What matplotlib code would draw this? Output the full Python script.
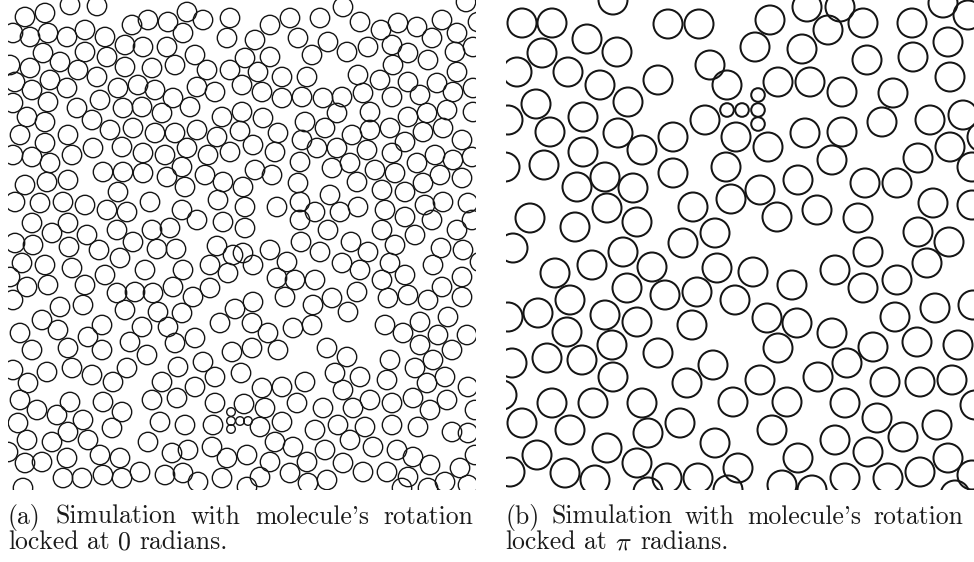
import matplotlib.pyplot as plt
from matplotlib.patches import Circle

plt.rcParams['mathtext.fontset'] = 'cm'

# molecule centres (pixel frame), panel (a): rotation locked at 0
a_big = [
    (25, 17), (45, 13), (70, 5), (97, 6), (132, 25), (148, 20), (168, 22), (187, 12), (203, 20), (230, 18),
    (13, 33), (30, 37), (48, 33), (67, 37), (85, 30), (105, 37), (125, 45), (143, 47), (167, 47), (183, 33), (227, 38),
    (43, 53), (85, 52), (107, 57), (195, 55),
    (10, 65), (30, 68), (60, 62), (78, 70), (125, 67), (152, 68), (175, 65), (207, 70), (230, 70),
    (15, 82), (50, 80), (97, 77),
    (32, 90), (67, 88), (118, 88), (138, 85), (155, 90), (197, 87), (215, 92),
    (13, 103), (48, 102), (100, 100), (173, 98),
    (77, 108), (123, 108), (142, 107), (162, 113), (190, 107),
    (27, 117), (45, 122), (92, 120), (222, 117),
    (20, 135), (68, 135), (110, 130), (133, 128), (155, 133), (175, 133), (197, 130), (217, 137), (240, 131),
    (45, 143), (93, 148), (122, 147), (143, 153), (165, 155), (187, 148), (208, 155), (230, 152),
    (13, 155), (32, 157), (50, 163), (72, 155),
    (103, 172), (123, 172), (143, 173), (167, 177), (182, 167), (205, 175), (223, 182),
    (25, 185), (47, 182), (68, 180), (185, 187), (118, 192), (243, 187),
    (15, 202), (40, 203), (63, 202), (85, 205), (107, 210), (127, 212), (150, 202), (182, 210), (218, 200), (245, 207),
    (32, 223), (52, 233), (68, 223), (87, 235), (117, 230), (133, 242), (152, 230), (170, 228), (197, 220), (223, 222), (245, 228),
    (15, 243), (33, 245), (69, 247), (99, 250), (157, 249), (176, 249), (217, 246),
    (120, 258), (233, 255),
    (22, 263), (45, 265), (72, 268), (105, 275), (145, 270), (183, 270), (210, 265), (228, 273),
    (10, 277), (27, 287), (48, 285), (85, 285), (117, 293), (135, 292), (153, 293), (173, 287), (193, 297), (210, 288),
    (13, 300), (60, 307), (83, 305), (125, 310), (158, 312), (182, 313), (235, 309),
    (42, 320), (102, 325), (142, 327), (168, 327), (220, 323),
    (20, 333), (58, 330), (88, 337), (130, 342), (175, 343), (195, 338),
    (32, 350), (68, 348), (102, 350), (147, 355), (232, 352), (203, 362),
    (13, 370), (47, 372), (72, 368), (92, 375), (127, 368), (178, 367),
    (28, 383), (113, 382), (162, 382), (195, 387), (215, 377), (241, 373),
    (20, 400), (37, 410), (57, 415), (70, 402), (103, 402), (152, 400), (177, 398), (215, 403),
    (83, 420), (18, 423), (122, 412), (160, 422), (185, 425), (213, 425),
    (68, 432), (112, 428),
    (27, 440), (52, 442), (88, 440), (148, 442),
    (8, 452), (100, 455), (120, 458), (172, 453), (188, 450), (212, 447), (227, 458),
    (25, 463), (42, 462), (67, 458),
    (63, 478), (82, 478), (103, 475), (122, 478), (140, 472), (165, 475), (183, 473), (198, 482), (222, 478),
    (23, 488),
    # right half
    (270, 25), (290, 18), (320, 18), (343, 7), (360, 22), (381, 30), (398, 23), (417, 27), (442, 20), (466, 2),
    (457, 33), (478, 22),
    (255, 40), (298, 38), (328, 42), (347, 52), (368, 47), (392, 45), (408, 53), (432, 38), (428, 60), (455, 52), (473, 47),
    (245, 58), (270, 57), (312, 55), (393, 65),
    (258, 72), (282, 77), (307, 77), (358, 75), (380, 80), (408, 82), (437, 83), (457, 72),
    (242, 85), (262, 92), (282, 98), (302, 97), (323, 98), (342, 97), (363, 93), (392, 97), (420, 95), (453, 92), (473, 88),
    (242, 112), (263, 118), (305, 122), (337, 113), (370, 112), (408, 117), (427, 113), (447, 110), (473, 112),
    (278, 133), (302, 140), (325, 128), (352, 135), (370, 130), (390, 128), (423, 132), (443, 128), (462, 140),
    (253, 145), (275, 152), (317, 148), (337, 148), (367, 150), (405, 142), (392, 153),
    (300, 162), (350, 163), (435, 155), (453, 160), (472, 157), (417, 163),
    (255, 170), (272, 175), (332, 168), (375, 170), (395, 173), (440, 175), (462, 178),
    (298, 183), (357, 182), (382, 190), (405, 192), (423, 183), (330, 195),
    (277, 207), (300, 202), (315, 212), (340, 212), (358, 207), (385, 210), (405, 217), (425, 205), (443, 202), (468, 203),
    (300, 220), (328, 230), (382, 230), (415, 235), (432, 220), (457, 230), (472, 220),
    (270, 250), (301, 242), (351, 242), (395, 245), (441, 248), (463, 250),
    (243, 253), (320, 252), (368, 252),
    (253, 265), (287, 262), (342, 263), (360, 270), (390, 263), (405, 275), (433, 265), (462, 277), (480, 262),
    (277, 278), (295, 280), (315, 280), (382, 280), (357, 292), (442, 287),
    (285, 297), (332, 298), (313, 305), (388, 298), (408, 295), (428, 300), (462, 297),
    (253, 302), (348, 312),
    (252, 323), (268, 333), (293, 328), (312, 325), (385, 325), (403, 333), (420, 322), (448, 317), (438, 335), (467, 335),
    (252, 348), (278, 350), (327, 348), (420, 345), (452, 350), (347, 357), (390, 360), (433, 360), (415, 368),
    (335, 373), (360, 377), (387, 380), (427, 383), (445, 377),
    (262, 388), (282, 387), (305, 382), (343, 390), (468, 387),
    (244, 404), (265, 408), (297, 403), (323, 408), (353, 408), (370, 400), (392, 403), (413, 398), (447, 400), (430, 410), (475, 410),
    (260, 427), (282, 422), (338, 425), (365, 427), (392, 425), (418, 427), (452, 432), (468, 433),
    (275, 442), (293, 447), (315, 430), (325, 450), (350, 440), (373, 447), (397, 450), (413, 457),
    (247, 455), (270, 462), (307, 462), (343, 463), (430, 465), (460, 468), (475, 455),
    (260, 477), (290, 473), (327, 480), (363, 472), (387, 472), (408, 477), (445, 482),
    (247, 487), (308, 483), (402, 488), (428, 488), (468, 485),
]
a_small = [(231, 412), (231, 421), (231, 429), (240, 421), (248, 421)]

# panel (b): rotation locked at pi
b_big = [
    (522, 23), (552, 23), (613, 0), (668, 24), (699, 24), (587, 39), (617, 52), (542, 53),
    (517, 72), (568, 72), (600, 85), (658, 80), (710, 65), (727, 85),
    (628, 102), (536, 104), (508, 120), (583, 117), (550, 132), (618, 133), (642, 150), (673, 137),
    (705, 120), (736, 137), (505, 167), (544, 165), (583, 152), (577, 187), (605, 177), (633, 188),
    (673, 173), (726, 167), (731, 199),
    (607, 208), (637, 222), (575, 227), (530, 218), (693, 207), (683, 243), (715, 233), (623, 252),
    (770, 20), (807, 7), (840, 7), (828, 30), (863, 23), (912, 23), (943, 3), (968, 15),
    (755, 47), (802, 49), (867, 60), (913, 57), (948, 42), (950, 77),
    (778, 82), (810, 82), (842, 92), (893, 93), (882, 122), (930, 120), (963, 115), (982, 137),
    (768, 147), (805, 133), (842, 132), (832, 160), (918, 158), (950, 147), (972, 167),
    (798, 180), (760, 190), (865, 183), (897, 183), (933, 203), (972, 205),
    (777, 217), (817, 210), (858, 218), (918, 232), (949, 242), (868, 252),
    (513, 248), (555, 273), (592, 265), (652, 267), (717, 268),
    (570, 300), (627, 288), (665, 295), (697, 292), (735, 300),
    (538, 313), (508, 317), (605, 315), (637, 322), (692, 325),
    (567, 332), (612, 345), (658, 353), (547, 358), (582, 360), (512, 363),
    (613, 377), (713, 365), (687, 383),
    (502, 395), (552, 403), (593, 403), (642, 403), (733, 402),
    (522, 423), (570, 430), (648, 433), (680, 423), (715, 443),
    (537, 455), (607, 448), (637, 463),
    (510, 472), (565, 473), (595, 480), (667, 478), (698, 478), (738, 468), (648, 492), (728, 490),
    (753, 272), (792, 285), (835, 270), (863, 288), (897, 280), (927, 263),
    (767, 318), (797, 323), (832, 333), (895, 317), (935, 308), (973, 305),
    (778, 348), (873, 347), (917, 342), (958, 345), (847, 363),
    (818, 377), (760, 380), (885, 382), (920, 382), (952, 380),
    (787, 402), (845, 403), (975, 405), (877, 418), (772, 430), (937, 425),
    (835, 440), (903, 437), (868, 452), (798, 458), (948, 458),
    (920, 472), (888, 478), (845, 478), (782, 485), (812, 490), (972, 475), (955, 495),
]
b_small = [(758, 95), (727, 110), (742, 110), (758, 110), (758, 124)]

cap_a = [["(a)", "Simulation", "with", "molecule's", "rotation"],
         ["locked", "at", "0", "radians."]]
cap_b = [["(b)", "Simulation", "with", "molecule's", "rotation"],
         ["locked", "at", r"$\pi$", "radians."]]

W, H = 974, 562
fig = plt.figure(figsize=(W / 100, H / 100), dpi=100)

# full-figure frame in pixel units for the captions
base = fig.add_axes([0, 0, 1, 1])
base.set_xlim(0, W)
base.set_ylim(H, 0)
base.axis('off')


def panel(x0, x1, big, small, r_big, r_small, lw):
    ax = fig.add_axes([x0 / W, (H - 490) / H, (x1 - x0) / W, 490 / H])
    ax.set_xlim(x0, x1)
    ax.set_ylim(490, 0)
    ax.axis('off')
    for (cx, cy) in big:
        ax.add_patch(Circle((cx, cy), r_big, fill=False, ec='#151515', lw=lw))
    for (cx, cy) in small:
        ax.add_patch(Circle((cx, cy), r_small, fill=False, ec='#151515', lw=lw))
    return ax


panel(8, 476, a_big, a_small, 9.7, 4.3, 1.0)
panel(506, 974, b_big, b_small, 14.5, 6.8, 1.45)

fig.canvas.draw()
renderer = fig.canvas.get_renderer()
fs = 18.5


def caption(lines, x0, x1):
    for i, words in enumerate(lines):
        y = 524 + 25 * i
        texts = [base.text(0, y, w, fontsize=fs, family='cmr10', va='baseline', ha='left',
                           color='#1a1a1a')
                 for w in words]
        widths = [t.get_window_extent(renderer).width for t in texts]
        if i == 0:
            gap = (x1 - x0 - sum(widths)) / (len(words) - 1)
        else:
            gap = 8.5
        x = x0
        for t, w in zip(texts, widths):
            t.set_x(x)
            x += w + gap


caption(cap_a, 8, 473)
caption(cap_b, 505, 963)

fig.savefig('out.png', dpi=100)
